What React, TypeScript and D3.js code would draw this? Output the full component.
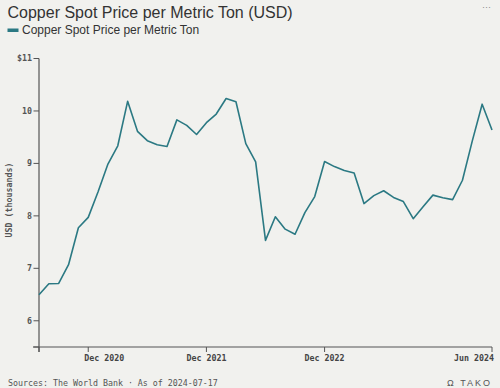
import React from "react";
import * as d3 from "d3";

const months: string[] = [
  "2020-08","2020-09","2020-10","2020-11","2020-12",
  "2021-01","2021-02","2021-03","2021-04","2021-05","2021-06","2021-07","2021-08","2021-09","2021-10","2021-11","2021-12",
  "2022-01","2022-02","2022-03","2022-04","2022-05","2022-06","2022-07","2022-08","2022-09","2022-10","2022-11","2022-12",
  "2023-01","2023-02","2023-03","2023-04","2023-05","2023-06","2023-07","2023-08","2023-09","2023-10","2023-11","2023-12",
  "2024-01","2024-02","2024-03","2024-04","2024-05","2024-06",
];
const prices: number[] = [
  6.497, 6.705, 6.712, 7.069, 7.772,
  7.971, 8.460, 8.988, 9.336, 10.184, 9.612, 9.433, 9.357, 9.324, 9.830, 9.726, 9.551,
  9.776, 9.941, 10.238, 10.176, 9.377, 9.028, 7.532, 7.983, 7.747, 7.649, 8.061, 8.368,
  9.036, 8.939, 8.865, 8.816, 8.234, 8.386, 8.479, 8.352, 8.272, 7.946, 8.175, 8.395,
  8.346, 8.309, 8.679, 9.429, 10.129, 9.636,
];
const xTickIndex: number[] = [0, 5, 17, 29, 46];
const xTickLabels: string[] = ["", "Dec 2020", "Dec 2021", "Dec 2022", "Jun 2024"];
const yTicks: number[] = [5.5, 6, 7, 8, 9, 10, 11];
const yTickLabels: string[] = ["", "6", "7", "8", "9", "10", "$11"];

const W = 500, H = 388;
const M = { left: 39, right: 8, top: 58.5, bottom: 41 };
const LINE = "#2b7983";
const AXIS = "#555";
const MONO = "'DejaVu Sans Mono', monospace";
const SANS = "'Liberation Sans', Arial, sans-serif";

export default function App() {
  const x = d3.scaleLinear().domain([0, months.length - 1]).range([M.left, W - M.right]);
  const y = d3.scaleLinear().domain([5.5, 11]).range([H - M.bottom, M.top]);
  const line = d3.line<number>().x((_, i) => x(i)).y((d) => y(d));
  const y0 = y(5.5);

  return (
    <svg width={W} height={H} style={{ position: "absolute", left: 0, top: 0, background: "#f1f1ee" }}>
      <rect width={W} height={H} fill="#f1f1ee" />
      <text x={7.5} y={17.5} fontFamily={SANS} fontSize={16} fill="#333">Copper Spot Price per Metric Ton (USD)</text>
      <text x={491} y={10} fontFamily={SANS} fontSize={9} fill="#888" textAnchor="end">···</text>
      <rect x={7.5} y={28.5} width={11} height={3.5} fill={LINE} />
      <text x={22} y={33.8} fontFamily={SANS} fontSize={12} fill="#333">Copper Spot Price per Metric Ton</text>

      {/* Y axis */}
      <line x1={M.left} x2={M.left} y1={y(11)} y2={y0 + 5} stroke={AXIS} strokeWidth={1.2} />
      {yTicks.map((t, i) => (
        <g key={t}>
          <line x1={M.left - 5.5} x2={M.left} y1={y(t)} y2={y(t)} stroke={AXIS} strokeWidth={1} />
          <text x={M.left - 7} y={y(t)} dy="0.35em" textAnchor="end" fontFamily={MONO} fontSize={8.3} fontWeight={700} fill="#555">{yTickLabels[i]}</text>
        </g>
      ))}
      <text transform={`translate(12,${200}) rotate(-90)`} textAnchor="middle" fontFamily={MONO} fontSize={8.3} fontWeight={700} fill="#555">USD (thousands)</text>

      {/* X axis */}
      <line x1={M.left - 6} x2={x(months.length - 1)} y1={y0} y2={y0} stroke={AXIS} strokeWidth={1.2} />
      {xTickIndex.map((idx, i) => {
        const last = i === xTickIndex.length - 1;
        const first = i === 1;
        return (
          <g key={idx}>
            <line x1={x(idx)} x2={x(idx)} y1={y0} y2={y0 + 5} stroke={AXIS} strokeWidth={1} />
            <text x={last ? x(idx) + 2 : first ? x(idx) - 4 : x(idx)} y={y0 + 14} textAnchor={last ? "end" : first ? "start" : "middle"} fontFamily={MONO} fontSize={8.3} fontWeight={700} fill="#444">{xTickLabels[i]}</text>
          </g>
        );
      })}

      <path d={line(prices) || ""} fill="none" stroke={LINE} strokeWidth={1.6} strokeLinejoin="round" />

      <text x={8} y={386} fontFamily={MONO} fontSize={8.3} fill="#555">Sources: The World Bank · As of 2024-07-17</text>
      <text x={492} y={386} textAnchor="end" fontFamily={SANS} fontSize={9} letterSpacing={2} fill="#555">Ω TAKO</text>
    </svg>
  );
}
